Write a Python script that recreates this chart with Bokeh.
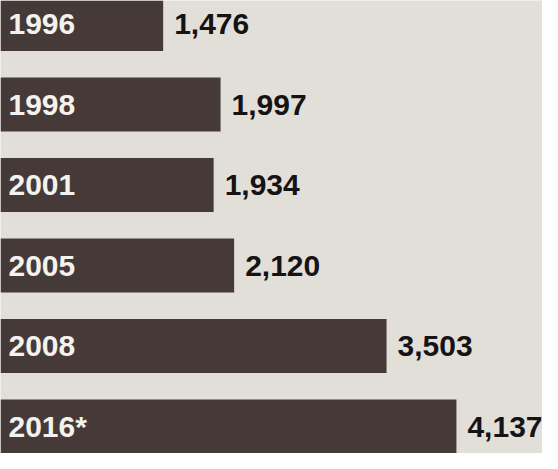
from bokeh.plotting import figure
from bokeh.models import ColumnDataSource, Range1d
from bokeh.core.properties import value
from bokeh.embed import file_html
from bokeh.resources import INLINE

years = ["1996", "1998", "2001", "2005", "2008", "2016*"]
counts = [1476, 1997, 1934, 2120, 3503, 4137]
count_labels = ["1,476", "1,997", "1,934", "2,120", "3,503", "4,137"]

idx = list(range(len(years)))
src = ColumnDataSource(dict(y=idx, right=counts, year=years, lab=count_labels,
                            zero=[0] * len(idx)))

bg = "#e2dfd9"
p = figure(width=542, height=453, output_backend="svg", toolbar_location=None,
           x_range=Range1d(0, 4918), y_range=Range1d(5.335, -0.292),
           min_border=0, background_fill_color=bg, border_fill_color=bg)
p.axis.visible = False
p.grid.visible = False
p.outline_line_color = None

p.hbar(y="y", left=0, right="right", height=0.67, source=src,
       fill_color="#453a37", line_color=None)

p.text(x="zero", y="y", text="year", source=src, x_offset=8,
       text_color="#f4f2ee", text_font=value("Liberation Sans"),
       text_font_style="bold", text_font_size="30px",
       text_baseline="middle", text_align="left")

p.text(x="right", y="y", text="lab", source=src, x_offset=11,
       text_color="#151313", text_font=value("Liberation Sans"),
       text_font_style="bold", text_font_size="30px",
       text_baseline="middle", text_align="left")

open("out.html", "w").write(file_html(p, INLINE))
